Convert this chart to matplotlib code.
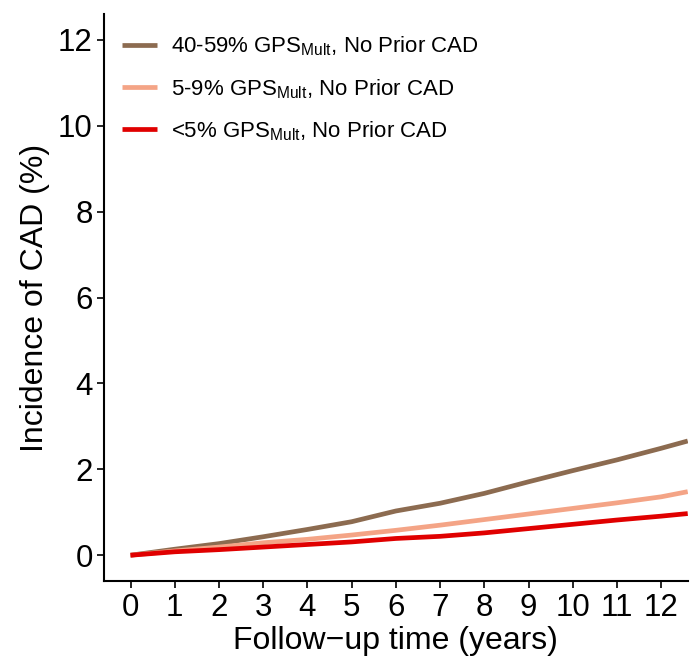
import matplotlib
matplotlib.use("Agg")
import matplotlib.pyplot as plt

plt.rcParams['font.family'] = ['Liberation Sans', 'DejaVu Sans']
plt.rcParams['mathtext.fontset'] = 'custom'
plt.rcParams['mathtext.rm'] = 'Liberation Sans'
plt.rcParams['mathtext.it'] = 'Liberation Sans:italic'

years = [0, 1, 2, 3, 4, 5, 6, 7, 8, 9, 10, 11, 12, 12.6]
high_40_59 = [0, 0.14, 0.27, 0.43, 0.60, 0.78, 1.03, 1.21, 1.44, 1.71, 1.97, 2.22, 2.49, 2.66]
mid_5_9 = [0, 0.10, 0.19, 0.29, 0.37, 0.47, 0.58, 0.70, 0.83, 0.96, 1.09, 1.22, 1.36, 1.48]
low_lt5 = [0, 0.08, 0.13, 0.19, 0.25, 0.31, 0.39, 0.44, 0.52, 0.62, 0.72, 0.82, 0.91, 0.97]

labels = [r'40-59% GPS$_{\mathrm{Mult}}$, No Prior CAD',
          r'5-9% GPS$_{\mathrm{Mult}}$, No Prior CAD',
          r'<5% GPS$_{\mathrm{Mult}}$, No Prior CAD']
colors = ['#8C6B50', '#F4A486', '#E00000']

fig = plt.figure(figsize=(6.9, 6.6), dpi=100)
ax = fig.add_axes([0.1507, 0.1197, 0.846, 0.859])

for ys, lab, c in zip([high_40_59, mid_5_9, low_lt5], labels, colors):
    ax.plot(years, ys, color=c, lw=3.4, label=lab, solid_capstyle='butt')

ax.set_xlim(-0.6, 12.6)
ax.set_ylim(-0.6, 12.6)
ax.set_xticks(range(0, 13))
ax.set_yticks(range(0, 13, 2))
for s in ['top', 'right']:
    ax.spines[s].set_visible(False)
for s in ['left', 'bottom']:
    ax.spines[s].set_linewidth(1.5)
ax.tick_params(axis='both', direction='out', length=5, width=1.2, labelsize=22.5, colors='black')
ax.tick_params(axis='y', pad=3)
ax.set_xlabel('Follow\u2212up time (years)', fontsize=23, labelpad=2.5)
ax.set_ylabel('Incidence of CAD (%)', fontsize=23, labelpad=6)

ax.legend(loc='upper left', bbox_to_anchor=(0.004, 0.991), frameon=False, fontsize=16,
          handlelength=1.6, handletextpad=0.63, labelspacing=0.84, borderaxespad=0.3)

fig.savefig('out.png', dpi=100)
